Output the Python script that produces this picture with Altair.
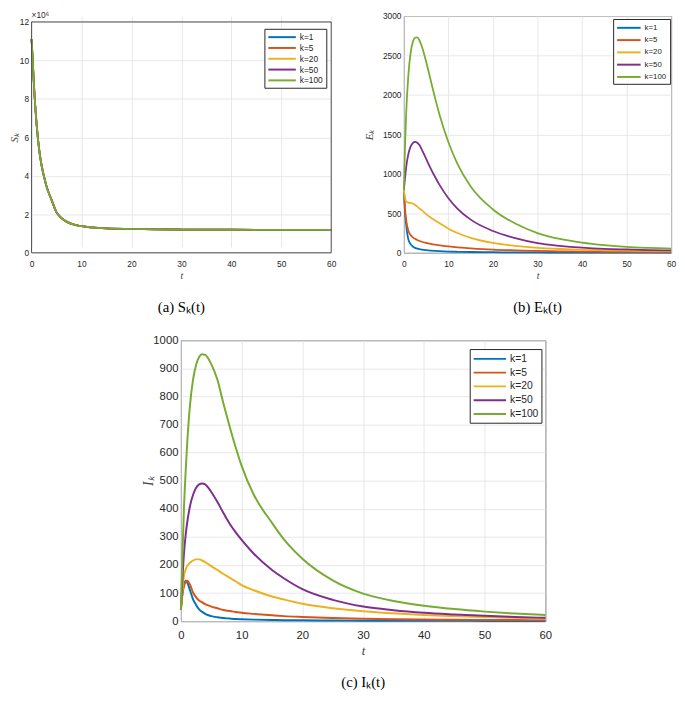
import altair as alt
import pandas as pd

# ---------------- data ----------------
SERIES = ["k=1", "k=5", "k=20", "k=50", "k=100"]
COLORS = ["#0072BD", "#D95319", "#EDB120", "#7E2F8E", "#77AC30"]

# (a) S_k(t), in units of 10^6 (all five curves overlap)
T_S = [0, 0.25, 0.5, 1, 1.5, 2, 2.5, 3, 4, 5, 6, 7, 8, 10, 12, 15, 20, 25, 30, 40, 50, 60]
S_k1 = [11.1, 9.9, 8.6, 6.7, 5.4, 4.55, 3.95, 3.45, 2.75, 2.1, 1.8, 1.62, 1.5, 1.38, 1.32, 1.27, 1.24, 1.22, 1.21, 1.2, 1.19, 1.19]
S_k5 = [11.1, 9.9, 8.6, 6.7, 5.4, 4.55, 3.95, 3.45, 2.75, 2.1, 1.8, 1.62, 1.5, 1.38, 1.32, 1.27, 1.24, 1.22, 1.21, 1.2, 1.19, 1.19]
S_k20 = [11.1, 9.9, 8.6, 6.7, 5.4, 4.55, 3.95, 3.45, 2.75, 2.1, 1.8, 1.62, 1.5, 1.38, 1.32, 1.27, 1.24, 1.22, 1.21, 1.2, 1.19, 1.19]
S_k50 = [11.1, 9.9, 8.6, 6.7, 5.4, 4.55, 3.95, 3.45, 2.75, 2.1, 1.8, 1.62, 1.5, 1.38, 1.32, 1.27, 1.24, 1.22, 1.21, 1.2, 1.19, 1.19]
S_k100 = [11.1, 9.9, 8.6, 6.7, 5.4, 4.55, 3.95, 3.45, 2.75, 2.1, 1.8, 1.62, 1.5, 1.38, 1.32, 1.27, 1.24, 1.22, 1.21, 1.2, 1.19, 1.19]

# (b) E_k(t)
T_E = [0, 0.25, 0.5, 1, 1.5, 2, 2.5, 3, 3.5, 4, 5, 6, 7, 8, 10, 12, 15, 20, 25, 30, 35, 40, 45, 50, 55, 60]
E_k1 = [800, 520, 360, 170, 110, 80, 62, 52, 45, 40, 33, 28, 24, 21, 16, 13, 10, 7, 5, 4, 3.5, 3, 2.5, 2, 2, 2]
E_k5 = [800, 560, 420, 280, 225, 195, 178, 163, 150, 140, 125, 113, 103, 95, 80, 68, 56, 40, 31, 24, 19, 15, 13, 11, 10, 9]
E_k20 = [800, 700, 650, 636, 632, 625, 605, 585, 560, 540, 490, 447, 410, 375, 305, 250, 190, 125, 88, 63, 48, 38, 31, 26, 23, 20]
E_k50 = [800, 950, 1080, 1250, 1345, 1390, 1405, 1395, 1365, 1310, 1190, 1070, 960, 860, 690, 560, 420, 276, 185, 122, 88, 65, 50, 42, 35, 30]
E_k100 = [800, 1350, 1750, 2250, 2530, 2670, 2725, 2730, 2690, 2620, 2420, 2190, 1960, 1750, 1400, 1130, 840, 549, 370, 250, 175, 130, 98, 75, 62, 53]

# (c) I_k(t)
T_I = [0, 0.25, 0.5, 0.8, 1, 1.5, 2, 2.5, 3, 3.5, 4, 4.5, 5, 6, 7, 8, 9, 10, 12, 15, 17, 20, 25, 30, 35, 40, 45, 50, 55, 60]
I_k1 = [41, 100, 130, 144, 140, 110, 78, 58, 42, 33, 26, 21, 18, 14, 11, 9.5, 8, 7, 5.5, 4, 3.5, 3, 2.2, 1.8, 1.5, 1.3, 1.1, 1, 1, 0.9]
I_k5 = [41, 95, 125, 140, 144, 130, 102, 85, 74, 67, 61, 56, 52, 46, 40, 36, 33, 30, 26, 21, 18, 15, 11, 9, 7, 6, 5, 4.5, 4, 3.5]
I_k20 = [41, 110, 160, 185, 195, 208, 216, 220, 220, 216, 210, 203, 196, 182, 168, 155, 142, 128, 110, 88, 77, 62, 46, 35, 28, 22, 18, 15, 12, 10]
I_k50 = [41, 150, 240, 310, 345, 410, 450, 475, 487, 490, 487, 475, 460, 425, 385, 348, 317, 289, 240, 182, 152, 114, 76, 52, 39, 30, 24, 19, 15, 12]
I_k100 = [41, 230, 400, 540, 620, 770, 860, 912, 940, 950, 948, 935, 915, 860, 775, 695, 620, 553, 450, 350, 290, 222, 145, 98, 72, 55, 43, 34, 27, 22]

X_TICKS = [0, 10, 20, 30, 40, 50, 60]
S_TICKS = [0, 2, 4, 6, 8, 10, 12]
E_TICKS = [0, 500, 1000, 1500, 2000, 2500, 3000]
I_TICKS = [0, 100, 200, 300, 400, 500, 600, 700, 800, 900, 1000]


def long_df(T, lists):
    rows = []
    for name, vals in zip(SERIES, lists):
        for t, v in zip(T, vals):
            rows.append({"t": t, "v": v, "k": name})
    return pd.DataFrame(rows)


df_S = long_df(T_S, [S_k1, S_k5, S_k20, S_k50, S_k100])
df_E = long_df(T_E, [E_k1, E_k5, E_k20, E_k50, E_k100])
df_I = long_df(T_I, [I_k1, I_k5, I_k20, I_k50, I_k100])

AX = "#262626"
FRAME = "#4d4d4d"
GRID = "#e2e2e2"


def panel(df, yticks, ytitle, w, h, fs, tfs, lw, leg, caption, ytitle_x, lpad,
          cap_off, top_gap=0):
    x = alt.X("t:Q", scale=alt.Scale(domain=[0, 60], nice=False),
              axis=alt.Axis(values=X_TICKS, title="t", titleFont="Liberation Serif",
                            titleFontStyle="italic", titleFontWeight="normal",
                            titleFontSize=tfs, titleColor="#404040", titlePadding=3,
                            labelFont="Liberation Sans", labelFontSize=fs, labelColor=AX,
                            labelPadding=lpad, labelFlush=False, ticks=False, domain=False,
                            grid=True, gridColor=GRID, gridWidth=0.8, format="d"))
    yscale = alt.Scale(domain=[yticks[0], yticks[-1]], nice=False)
    if top_gap:
        yscale = alt.Scale(domain=[yticks[0], yticks[-1]], nice=False,
                           range=[h, top_gap])
    y = alt.Y("v:Q", scale=yscale,
              axis=alt.Axis(values=yticks, title=ytitle, titleFont="Liberation Serif",
                            titleFontStyle="italic", titleFontWeight="normal",
                            titleFontSize=tfs + 1, titleColor="#404040",
                            titleX=ytitle_x, titleY=(h + top_gap) / 2,
                            titleBaseline="middle",
                            labelFont="Liberation Sans", labelFontSize=fs, labelColor=AX,
                            labelPadding=3, ticks=False, domain=False, format="d",
                            grid=True, gridColor=GRID, gridWidth=0.8))
    sym_len, s, fsz, lx, ly, rpad = leg
    path = "M-1,0H%.3f" % (2.0 * sym_len / s - 1)
    color = alt.Color("k:N", scale=alt.Scale(domain=SERIES, range=COLORS),
                      legend=alt.Legend(title=None, orient="none", legendX=lx, legendY=ly,
                                        padding=3, rowPadding=rpad, symbolType=path,
                                        symbolSize=s * s, symbolStrokeWidth=2,
                                        labelFont="Liberation Sans", labelFontSize=fsz,
                                        labelColor=AX, labelOffset=sym_len + 3 - s,
                                        strokeColor=AX, fillColor="white",
                                        cornerRadius=0))
    line = alt.Chart(df).mark_line(strokeWidth=lw, interpolate="monotone").encode(
        x=x, y=y, color=color)
    return line, dict(width=w, height=h,
                      title=alt.TitleParams(caption, orient="bottom", anchor="middle",
                                            font="Liberation Serif", fontSize=15,
                                            fontWeight="normal", color="black",
                                            offset=cap_off))


def spacer(w, h):
    return alt.Chart(pd.DataFrame({"z": [0]})).mark_point(size=0, opacity=0).encode(
        x=alt.value(1), y=alt.value(1)).properties(
        width=w, height=h, view=alt.ViewBackground(stroke="transparent"))


A_W = 305
B_W, B_H = 272, 241
C_W, C_H = 371, 286
A_GAP = 6  # panel (a) box starts this far below panel (b)'s box

line_a, props_a = panel(df_S, S_TICKS, "Sₖ", A_W, B_H, 8.5, 10, 1.8,
                        (28, 9, 8.5, A_W - 8 - 60, A_GAP + 7, 1), "(a) Sₖ(t)",
                        -17, 7, 20, top_gap=A_GAP)
frame_a = alt.Chart(pd.DataFrame({"z": [0]})).mark_rect(
    fill="transparent", stroke=FRAME, strokeWidth=1).encode(
    x=alt.datum(T_S[0]), x2=alt.datum(T_S[-1]),
    y=alt.datum(S_TICKS[0]), y2=alt.datum(S_TICKS[-1]))
exp_txt = alt.Chart(pd.DataFrame({"s": ["×10⁶"]})).mark_text(
    align="left", baseline="middle", fontSize=8.5, font="Liberation Sans",
    color=AX).encode(x=alt.value(0), y=alt.value(A_GAP - 7), text="s:N")
chart_a = alt.layer(line_a, frame_a, exp_txt).properties(
    view=alt.ViewBackground(stroke="transparent"), **props_a)

line_b, props_b = panel(df_E, E_TICKS, "Eₖ", B_W, B_H, 8.5, 10, 1.8,
                        (24, 10, 8, B_W - 59, 3, 2.5), "(b) Eₖ(t)", -35, 7, 20)
chart_b = line_b.properties(**props_b)

line_c, props_c = panel(df_I, I_TICKS, "Iₖ", C_W, C_H, 11.5, 13, 2.0,
                        (33, 12, 10.5, C_W - 77, 9, 1), "(c) Iₖ(t)", -33, 9, 19)
chart_c = line_c.properties(**props_c)

row1 = alt.hconcat(chart_a, chart_b, spacing=26).resolve_scale(color="independent")
row2 = alt.hconcat(spacer(110, 10), chart_c, spacing=0).resolve_scale(color="independent")

chart = alt.vconcat(row1, row2, spacing=18).resolve_scale(
    color="independent").properties(
    padding={"top": -4, "left": 0, "right": 0, "bottom": 0},
    background="white").configure_view(stroke=FRAME, strokeWidth=1)

chart.save("out.html", embed_options={"renderer": "svg", "actions": False})
